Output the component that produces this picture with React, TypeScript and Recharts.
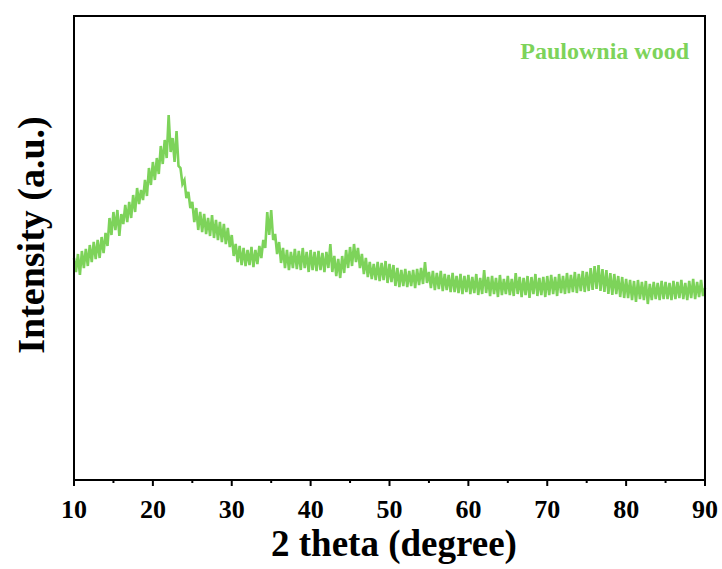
import React from 'react';
import { LineChart, Line, XAxis, YAxis } from 'recharts';

// 2-theta scan, 0.25 degree step starting at 10 degrees
const START_ANGLE = 10;
const STEP = 0.25;

const seg10to15 = [222, 208, 226, 205, 229, 212, 231, 214, 235, 218, 238, 221, 240, 222, 243, 227, 247, 234, 262, 245];
const seg15to20 = [268, 250, 270, 244, 266, 256, 275, 258, 278, 262, 285, 268, 292, 276, 290, 280, 300, 284, 312, 295];
const seg20to25 = [318, 300, 322, 306, 334, 316, 340, 322, 365, 328, 342, 318, 349, 314, 312, 296, 300, 282, 288, 272];
const seg25to30 = [278, 258, 272, 250, 268, 248, 266, 246, 262, 244, 265, 242, 260, 240, 258, 238, 256, 236, 252, 233];
const seg30to35 = [245, 224, 236, 218, 234, 215, 232, 214, 230, 215, 233, 213, 230, 216, 234, 222, 240, 232, 268, 245];
const seg35to40 = [270, 240, 246, 226, 238, 217, 232, 212, 230, 210, 228, 212, 231, 211, 229, 210, 232, 212, 228, 208];
const seg40to45 = [230, 210, 228, 209, 229, 210, 227, 208, 228, 212, 236, 208, 224, 204, 221, 202, 224, 207, 230, 212];
const seg45to50 = [233, 214, 236, 218, 232, 212, 226, 206, 222, 203, 218, 201, 216, 200, 218, 199, 217, 200, 219, 197];
const seg50to55 = [216, 198, 215, 194, 212, 193, 210, 194, 211, 193, 209, 194, 210, 192, 211, 195, 212, 196, 218, 197];
const seg55to60 = [208, 192, 209, 190, 207, 191, 209, 189, 206, 190, 205, 188, 207, 188, 204, 187, 206, 186, 204, 188];
const seg60to65 = [205, 186, 203, 187, 206, 185, 202, 186, 210, 187, 203, 184, 204, 186, 202, 183, 205, 185, 201, 186];
const seg65to70 = [204, 185, 201, 184, 207, 186, 203, 183, 202, 185, 204, 182, 203, 186, 206, 184, 202, 185, 203, 183];
const seg70to75 = [204, 185, 205, 186, 203, 184, 206, 187, 204, 186, 207, 187, 205, 188, 208, 187, 206, 189, 209, 188];
const seg75to80 = [208, 189, 212, 190, 214, 191, 215, 189, 211, 188, 210, 186, 207, 185, 206, 186, 204, 183, 203, 182];
const seg80to85 = [201, 182, 200, 180, 199, 178, 200, 181, 198, 180, 199, 176, 196, 180, 198, 181, 197, 180, 199, 181];
const seg85to90 = [198, 181, 197, 180, 199, 181, 198, 182, 200, 181, 197, 180, 199, 182, 201, 181, 198, 183, 200, 184, 192];

const intensity = [
  ...seg10to15, ...seg15to20, ...seg20to25, ...seg25to30,
  ...seg30to35, ...seg35to40, ...seg40to45, ...seg45to50,
  ...seg50to55, ...seg55to60, ...seg60to65, ...seg65to70,
  ...seg70to75, ...seg75to80, ...seg80to85, ...seg85to90,
];

const xTicks = [10, 15, 20, 25, 30, 35, 40, 45, 50, 55, 60, 65, 70, 75, 80, 85, 90];
const labelledTicks = [10, 20, 30, 40, 50, 60, 70, 80, 90];

const data = intensity.map((v, i) => ({ angle: START_ANGLE + i * STEP, value: v }));

const GREEN = '#7dd35a';
const FONT = '"Liberation Serif", "Times New Roman", serif';

const AngleTick = (props: any) => {
  const { x, y, payload } = props;
  const major = labelledTicks.includes(payload.value);
  return (
    <g>
      <line x1={x} y1={y} x2={x} y2={y + (major ? 6 : 3)} stroke="#000" strokeWidth={2} />
      {major && (
        <text x={x} y={y + 38} textAnchor="middle" fontFamily={FONT} fontWeight="bold" fontSize={26} fill="#000">
          {payload.value}
        </text>
      )}
    </g>
  );
};

export default function App() {
  return (
    <div style={{ position: 'absolute', left: 0, top: 0, width: 722, height: 569, background: '#fff' }}>
      <LineChart width={722} height={569} data={data} margin={{ top: 16, right: 17, bottom: 0, left: 74 }}>
        <XAxis
          dataKey="angle"
          type="number"
          domain={[10, 90]}
          ticks={xTicks}
          interval={0}
          height={89}
          axisLine={false}
          tickLine={false}
          tickSize={0}
          tickMargin={0}
          tick={<AngleTick />}
        />
        <YAxis hide domain={[0, 464]} />
        <Line
          type="linear"
          dataKey="value"
          stroke={GREEN}
          strokeWidth={2.6}
          strokeLinejoin="miter"
          dot={false}
          isAnimationActive={false}
        />
      </LineChart>
      <div
        style={{
          position: 'absolute',
          left: 73,
          top: 15,
          width: 633,
          height: 466,
          border: '2px solid #000',
          boxSizing: 'border-box',
          pointerEvents: 'none',
        }}
      />
      <svg width={722} height={569} style={{ position: 'absolute', left: 0, top: 0, pointerEvents: 'none' }}>
        <text x={689} y={59} textAnchor="end" fontFamily={FONT} fontWeight="bold" fontSize={24} fill={GREEN}>
          Paulownia wood
        </text>
        <text x={394} y={556} textAnchor="middle" fontFamily={FONT} fontWeight="bold" fontSize={37} fill="#000">
          2 theta (degree)
        </text>
        <text
          x={0}
          y={0}
          transform="translate(44, 235) rotate(-90)"
          textAnchor="middle"
          fontFamily={FONT}
          fontWeight="bold"
          fontSize={38}
          fill="#000"
        >
          Intensity (a.u.)
        </text>
      </svg>
    </div>
  );
}
